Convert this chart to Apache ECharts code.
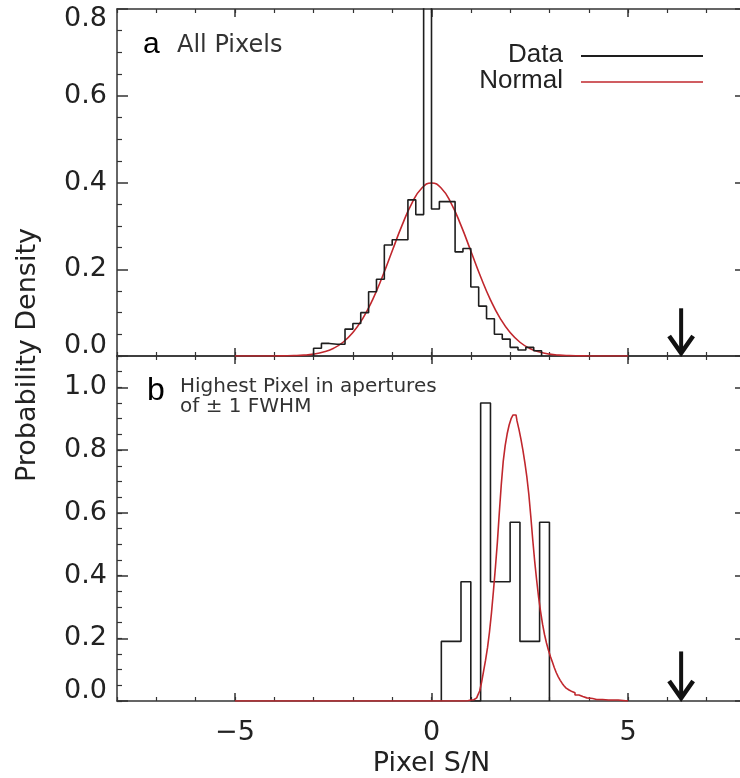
<!DOCTYPE html>
<html><head><meta charset="utf-8">
<script src="https://cdn.jsdelivr.net/npm/echarts@6/dist/echarts.min.js"></script>
<style>html,body{margin:0;padding:0;background:#fff;overflow:hidden}#c{width:740px;height:778px}</style>
</head><body><div id="c"></div>
<script>
// ---- data ----
const xMajorTicks = [-5, 0, 5];
const xTickLabels = ['\u22125', '0', '5'];

// panel a: histogram of all pixels (bin edges and densities)
const aEdges = [-3.0,-2.8,-2.6,-2.4,-2.2,-2.0,-1.8,-1.6,-1.4,-1.2,-1.0,-0.8,-0.6,-0.4,-0.2,0.0,0.2,0.4,0.6,0.8,1.0,1.2,1.4,1.6,1.8,2.0,2.2,2.4,2.6,2.8];
const aDensity = [0.018,0.029,0.027,0.027,0.062,0.075,0.100,0.148,0.177,0.256,0.268,0.268,0.360,0.326,1.600,0.339,0.356,0.356,0.240,0.248,0.159,0.115,0.086,0.050,0.039,0.020,0.014,0.020,0.012];
// panel a: normal curve
const aNormX = [-5.0,-4.25,-4.0,-3.75,-3.5,-3.25,-3.0,-2.75,-2.5,-2.25,-2.0,-1.75,-1.5,-1.25,-1.0,-0.75,-0.5,-0.25,0.0,0.25,0.5,0.75,1.0,1.25,1.5,1.75,2.0,2.25,2.5,2.75,3.0,3.25,3.5,3.75,4.0,4.25,5.0];
const aNormY = [0.0,0.0,0.0001,0.0004,0.0009,0.0020,0.0044,0.0091,0.0175,0.0317,0.0540,0.0863,0.1295,0.1826,0.2420,0.3011,0.3521,0.3867,0.3989,0.3867,0.3521,0.3011,0.2420,0.1826,0.1295,0.0863,0.0540,0.0317,0.0175,0.0091,0.0044,0.0020,0.0009,0.0004,0.0001,0.0,0.0];

// panel b: histogram of highest pixel in apertures
const bEdges = [0.25,0.5,0.75,1.0,1.25,1.5,1.75,2.0,2.25,2.5,2.75,3.0];
const bDensity = [0.19,0.19,0.38,0.0,0.95,0.38,0.38,0.57,0.19,0.19,0.57];
// panel b: expected distribution (stepped)
const bNormX = [-5.0,0.85,0.90,0.95,1.00,1.05,1.10,1.15,1.20,1.25,1.30,1.35,1.40,1.45,1.50,1.55,1.60,1.65,1.70,1.75,1.80,1.85,1.90,1.95,2.00,2.05,2.10,2.15,2.20,2.25,2.30,2.35,2.40,2.45,2.50,2.55,2.60,2.65,2.70,2.75,2.80,2.85,2.90,2.95,3.00,3.05,3.10,3.15,3.20,3.25,3.30,3.35,3.40,3.45,3.50,3.55,3.60,3.70,3.80,3.90,4.00,4.20,4.50,5.00];
const bNormY = [0.0,0.0,0.001,0.002,0.003,0.004,0.006,0.010,0.018,0.032,0.060,0.095,0.130,0.170,0.220,0.280,0.350,0.425,0.505,0.600,0.690,0.765,0.815,0.852,0.880,0.900,0.912,0.912,0.893,0.866,0.835,0.800,0.760,0.715,0.660,0.590,0.515,0.445,0.385,0.330,0.285,0.245,0.212,0.185,0.162,0.142,0.124,0.106,0.090,0.077,0.066,0.056,0.048,0.041,0.035,0.030,0.026,0.019,0.014,0.010,0.008,0.005,0.003,0.0];

// arrows (x position, top of shaft) for panels a and b
const arrowA = [[6.35, 0.11]];
const arrowB = [[6.35, 0.158]];

// ---- chart ----
const AX = '#333';
const DATA_C = '#1e1e1e';
const RED = '#c0272d';
const FONT = 'DejaVu Sans';

function stepPoints(edges, vals) {
  const pts = [[edges[0], 0]];
  for (let i = 0; i < vals.length; i++) pts.push([edges[i], vals[i]]);
  pts.push([edges[edges.length - 1], 0]);
  return pts;
}
function zip(xs, ys) { return xs.map((x, i) => [x, ys[i]]); }

function xMajor(gi, pos, showLabel) {
  return {
    type: 'value', gridIndex: gi, position: pos, min: -8, max: 8,
    axisLine: { onZero: false, lineStyle: { color: AX, width: 1.5 } },
    axisTick: { inside: true, length: 8, customValues: xMajorTicks, lineStyle: { color: AX, width: 1.5 } },
    axisLabel: { show: showLabel, customValues: xMajorTicks, margin: 18,
      formatter: v => xTickLabels[xMajorTicks.indexOf(v)],
      fontFamily: FONT, fontSize: 27, color: '#222' },
    splitLine: { show: false },
    name: showLabel ? 'Pixel S/N' : '', nameLocation: 'middle', nameGap: 49,
    nameTextStyle: { fontFamily: FONT, fontSize: 27, color: '#222' }
  };
}
function xMinor(gi, pos) {
  return {
    type: 'value', gridIndex: gi, position: pos, min: -8, max: 8, interval: 1,
    axisLine: { show: false, onZero: false },
    axisTick: { inside: true, length: 4, lineStyle: { color: AX, width: 1.2 } },
    axisLabel: { show: false }, splitLine: { show: false }
  };
}
function yMajor(gi, pos, max, showLabel, minor) {
  return {
    type: 'value', gridIndex: gi, position: pos, min: 0, max: max, interval: 0.2,
    axisLine: { show: true, onZero: false, lineStyle: { color: AX, width: 1.5 } },
    axisTick: { show: true, inside: true, length: 11, lineStyle: { color: AX, width: 1.5 } },
    minorTick: { show: minor, splitNumber: 4, length: 5, lineStyle: { color: AX, width: 1.2 } },
    axisLabel: { show: showLabel, showMaxLabel: max <= 0.8, margin: 10, lineHeight: 20,
      verticalAlignMinLabel: 'bottom', verticalAlignMaxLabel: 'top',
      formatter: v => v.toFixed(1), fontFamily: FONT, fontSize: 27, color: '#222' },
    splitLine: { show: false }
  };
}
function yMinor(gi, pos, max) {
  return {
    type: 'value', gridIndex: gi, position: pos, min: 0, max: max, interval: 0.05,
    axisLine: { show: false, onZero: false },
    axisTick: { show: true, inside: true, length: 5, lineStyle: { color: AX, width: 1.2 } },
    axisLabel: { show: false }, splitLine: { show: false }
  };
}
function arrowItem(params, api) {
  const tip = api.coord([api.value(0), 0]);
  const top = api.coord([api.value(0), api.value(1)]);
  return { type: 'group', children: [
    { type: 'line', shape: { x1: top[0], y1: top[1], x2: tip[0], y2: tip[1] - 3 },
      style: { stroke: '#111', lineWidth: 4 } },
    { type: 'polyline', shape: { points: [[tip[0] - 12, tip[1] - 20], [tip[0], tip[1] - 3], [tip[0] + 12, tip[1] - 20]] },
      style: { stroke: '#111', lineWidth: 4.5, fill: null, lineJoin: 'miter' } }
  ]};
}

const chart = echarts.init(document.getElementById('c'), null, { renderer: 'canvas' });
chart.setOption({
  animation: false,
  backgroundColor: '#fff',
  grid: [
    { left: 117, width: 629, top: 9, height: 347, outerBoundsMode: 'none', containLabel: false },
    { left: 117, width: 629, top: 356, height: 345, outerBoundsMode: 'none', containLabel: false }
  ],
  xAxis: [
    xMajor(0, 'bottom', false), xMinor(0, 'bottom'),
    xMajor(0, 'top', false), xMinor(0, 'top'),
    xMajor(1, 'bottom', true), xMinor(1, 'bottom'),
    xMajor(1, 'top', false), xMinor(1, 'top')
  ],
  yAxis: [
    yMajor(0, 'left', 0.8, true, true), yMajor(0, 'right', 0.8, false, true),
    yMajor(1, 'left', 1.1, true, false), yMinor(1, 'left', 1.1),
    yMajor(1, 'right', 1.1, false, false), yMinor(1, 'right', 1.1)
  ],
  series: [
    { name: 'Normal', type: 'line', xAxisIndex: 0, yAxisIndex: 0, data: zip(aNormX, aNormY),
      smooth: 0.5, showSymbol: false, lineStyle: { color: RED, width: 1.6 }, z: 3 },
    { name: 'Data', type: 'line', xAxisIndex: 0, yAxisIndex: 0, data: stepPoints(aEdges, aDensity),
      step: 'end', showSymbol: false, lineStyle: { color: DATA_C, width: 1.6 }, z: 4 },
    { name: 'Data', type: 'line', xAxisIndex: 4, yAxisIndex: 2, data: stepPoints(bEdges, bDensity),
      step: 'end', showSymbol: false, lineStyle: { color: DATA_C, width: 1.6 }, z: 3 },
    { name: 'Normal', type: 'line', xAxisIndex: 4, yAxisIndex: 2, data: zip(bNormX, bNormY),
      step: 'middle', showSymbol: false, lineStyle: { color: RED, width: 1.6 }, z: 4 },
    { type: 'custom', xAxisIndex: 0, yAxisIndex: 0, data: arrowA, renderItem: arrowItem, z: 5 },
    { type: 'custom', xAxisIndex: 4, yAxisIndex: 2, data: arrowB, renderItem: arrowItem, z: 5 }
  ],
  graphic: [
    { type: 'text', x: 143, y: 45, style: { text: 'a', font: '30px "Liberation Sans"', fill: '#000', textVerticalAlign: 'middle' } },
    { type: 'text', x: 177, y: 46, style: { text: 'All Pixels', font: '24px "DejaVu Sans"', fill: '#333', textVerticalAlign: 'middle' } },
    { type: 'text', x: 563, y: 55, style: { text: 'Data', font: '26px "Liberation Sans"', fill: '#222', textAlign: 'right', textVerticalAlign: 'middle' } },
    { type: 'text', x: 563, y: 81, style: { text: 'Normal', font: '26px "Liberation Sans"', fill: '#222', textAlign: 'right', textVerticalAlign: 'middle' } },
    { type: 'line', shape: { x1: 581, y1: 56, x2: 703, y2: 56 }, style: { stroke: DATA_C, lineWidth: 2 } },
    { type: 'line', shape: { x1: 581, y1: 82, x2: 703, y2: 82 }, style: { stroke: RED, lineWidth: 1.6 } },
    { type: 'text', x: 147, y: 391, style: { text: 'b', font: '32px "Liberation Sans"', fill: '#000', textVerticalAlign: 'middle' } },
    { type: 'text', x: 180, y: 387, style: { text: 'Highest Pixel in apertures', font: '20px "DejaVu Sans"', fill: '#333', textVerticalAlign: 'middle' } },
    { type: 'text', x: 180, y: 407, style: { text: 'of \u00b1 1 FWHM', font: '20px "DejaVu Sans"', fill: '#333', textVerticalAlign: 'middle' } },
    { type: 'text', x: 28, y: 355, rotation: Math.PI / 2, style: { text: 'Probability Density', font: '27px "DejaVu Sans"', fill: '#222', textAlign: 'center', textVerticalAlign: 'middle' } }
  ]
});
</script>
</body></html>
